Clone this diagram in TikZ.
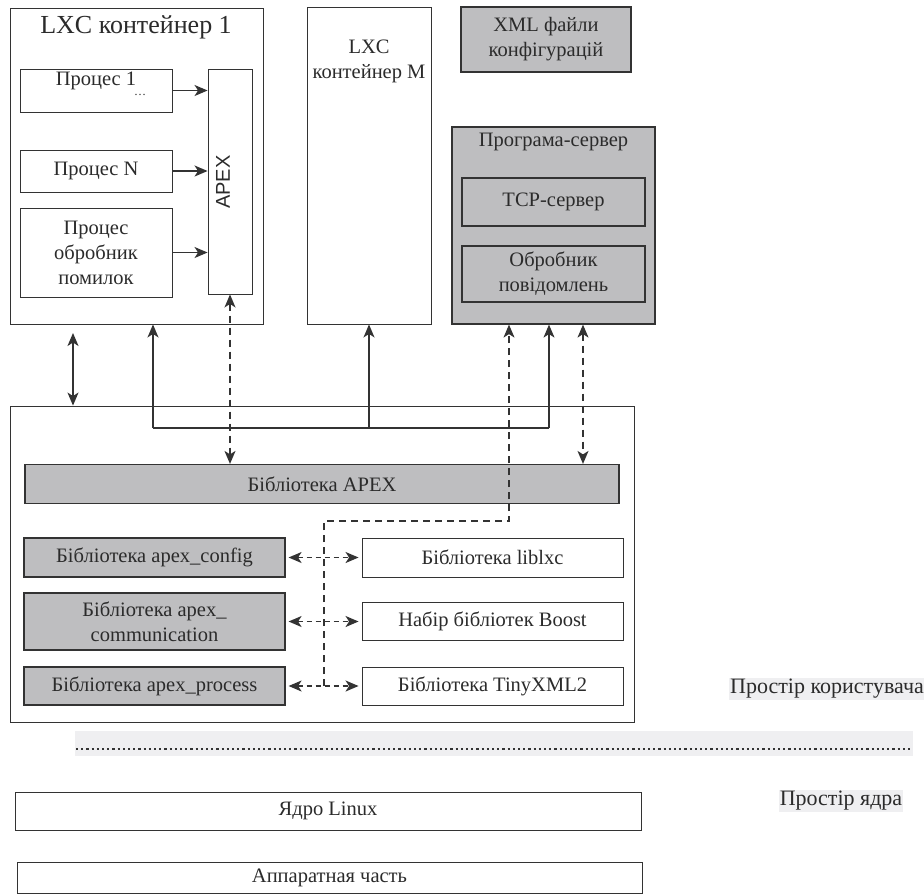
\documentclass[tikz,border=0pt]{standalone}
\usepackage{fontspec}
\setmainfont{Liberation Serif}
\setsansfont{Liberation Sans}
\usetikzlibrary{arrows.meta}
\definecolor{boxgray}{HTML}{BEBEC0}
\definecolor{bandgray}{HTML}{EFEFF1}
\definecolor{linegray}{HTML}{333333}
\definecolor{textdark}{HTML}{2B2B2B}

\begin{document}
\begin{tikzpicture}[x=1pt,y=-1pt,
  >={Stealth[length=13pt,width=11pt,inset=3.5pt]},
  every node/.style={text=textdark,font=\fontsize{20.5}{25}\selectfont},
  blk/.style 2 args={draw=linegray,line width=0.9pt,fill=white,
    minimum width=#1,minimum height=#2,inner sep=0pt,align=center},
  gblk/.style 2 args={blk={#1}{#2},fill=boxgray,line width=1.2pt},
  link/.style={draw=linegray,line width=1.3pt,->},
  both/.style={draw=linegray,line width=1.3pt,<->},
  dashy/.style={dash pattern=on 7pt off 5pt},
  tag/.style={fill=bandgray,inner sep=1pt,font=\fontsize{22}{25}\selectfont}]
  \useasboundingbox (0,0) rectangle (924,895);

  % LXC container 1 with its processes and the APEX layer.
  \node[blk={253pt}{316pt}] (c1) at (136.5,166) {};
  \node (c1T) at (136,27) {\fontsize{26}{30}\selectfont LXC контейнер 1};
  \node[blk={152pt}{43pt}] (p1) at (96,90.5) {};
  \node[inner sep=0pt] (p1T) at (96,84)
    {Процес 1\rlap{\hspace{-2pt}\raisebox{-10pt}{\fontsize{12}{14}\selectfont\ldots}}};
  \node[blk={152pt}{42pt}] (pN) at (96,171) {Процес N};
  \node[blk={152pt}{89pt}] (pErr) at (96,252.5) {Процес\\обробник\\помилок};
  \node[blk={44pt}{225pt}] (apex) at (230,181.5) {};
  \node[rotate=90,font=\sffamily\fontsize{20}{24}\selectfont] (apexT) at (223,182) {APEX};
  \foreach \p in {p1,pN,pErr}
    \draw[link] (\p.east) -- (\p.east -| apex.west);

  % LXC container M.
  \node[blk={124pt}{317pt}] (cM) at (369,165.5) {};
  \node[anchor=north,align=center] (cMT) at (369,36) {LXC\\контейнер M};

  % Configuration files and the server program.
  \node[gblk={170pt}{65pt}] (xml) at (546,39.5) {XML файли\\конфігурацій};
  \node[gblk={203pt}{197pt}] (srv) at (553.5,225.5) {};
  \node (srvT) at (553.5,142) {Програма-сервер};
  \node[gblk={183pt}{48pt}] (tcp) at (553.5,202) {TCP-сервер};
  \node[gblk={183pt}{56pt}] (msg) at (553.5,274) {Обробник\\повідомлень};

  % Libraries block.
  \node[blk={624pt}{316pt}] (lib) at (322,564) {};
  \node[gblk={594pt}{39pt}] (apexLib) at (322,484) {Бібліотека APEX};
  \node[gblk={261pt}{39pt}] (cfg) at (154.5,557.5) {Бібліотека apex\_config};
  \node[gblk={261pt}{57pt}] (comm) at (154.5,621.5) {Бібліотека apex\_\\communication};
  \node[gblk={261pt}{38pt}] (proc) at (154.5,686) {Бібліотека apex\_process};
  \node[blk={261pt}{39pt}] (lxc) at (492.5,557.5) {Бібліотека liblxc};
  \node[blk={261pt}{38pt}] (boost) at (492.5,621) {Набір бібліотек Boost};
  \node[blk={261pt}{38pt}] (tiny) at (492.5,686) {Бібліотека TinyXML2};

  % Bus from the libraries up to the containers and the server.
  \coordinate (busL) at (153,428);
  \coordinate (busR) at (549,428);
  \draw[linegray,line width=1.3pt] (busL) -- (busR);
  \draw[link] (busL) -- (busL |- c1.south);
  \draw[link] (cM.south |- busL) -- (cM.south);
  \draw[link] (busR) -- (busR |- srv.south);
  \draw[both] (73,333) -- (73,0 |- lib.north);

  % Dashed links.
  \draw[both,dashy] (apex.south) -- (apex.south |- apexLib.north);
  \draw[both,dashy] (583,0 |- srv.south) -- (583,0 |- apexLib.north);
  \draw[link,dashy] (324,0 |- proc.east) -- (324,521) -| (509,0 |- srv.south);
  \foreach \a/\b in {cfg/lxc,comm/boost,proc/tiny}
    \draw[both,dash pattern=on 5pt off 4pt,shorten <=3pt,shorten >=3pt]
      (\a.east) -- (\a.east -| \b.west);

  % User space / kernel space border.
  \fill[bandgray] (75,731) rectangle (913,756);
  \draw[linegray,line width=2.6pt,dash pattern=on 2.2pt off 3pt] (76,749) -- (913,749);
  \node[tag] (userT) at (827,689) {Простір користувача};
  \node[tag] (kernT) at (841,801) {Простір ядра};

  % Kernel and hardware.
  \node[blk={626pt}{38pt}] (kern) at (328,811) {Ядро Linux};
  \node[blk={625pt}{31pt}] (hw) at (329.5,877.5) {Аппаратная часть};
\end{tikzpicture}
\end{document}
